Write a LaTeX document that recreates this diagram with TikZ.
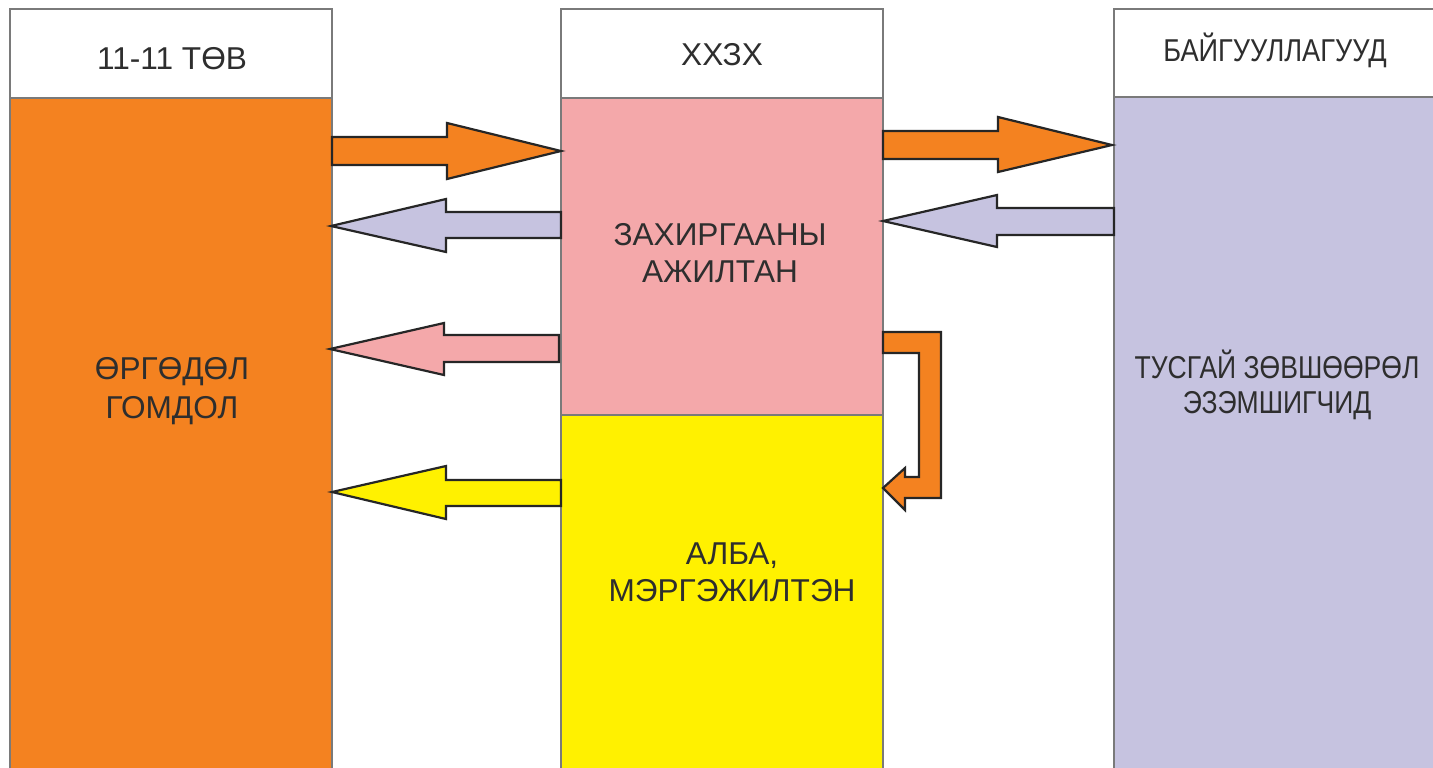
\documentclass[tikz,border=0pt]{standalone}
\usepackage{fontspec}
\usepackage{graphicx}
\setmainfont{Liberation Sans}
\definecolor{cOrange}{HTML}{F48220}
\definecolor{cPink}{HTML}{F4A8AA}
\definecolor{cYellow}{HTML}{FFF100}
\definecolor{cLav}{HTML}{C6C3E0}
\definecolor{cText}{HTML}{2E2E2E}
\definecolor{cBorder}{HTML}{7A7A7A}
\definecolor{cOut}{HTML}{262626}
\tikzset{
  panel/.style={draw=cBorder, line width=0.6pt},
  barrow/.style={draw=cOut, line width=1.1pt, line join=miter},
  lbl/.style={text=cText, font=\fontsize{15.8}{18.5}\selectfont, align=center, inner sep=0pt},
}
\begin{document}
\begin{tikzpicture}[x=0.5pt,y=-0.5pt]
\clip (0,0) rectangle (1433,767);
\fill[white] (0,0) rectangle (1433,767);
% columns
\draw[panel, fill=white] (10,9) rectangle (332,98);
\draw[panel, fill=cOrange] (10,98) rectangle (332,780);
\draw[panel, fill=white] (561,9) rectangle (883,98);
\draw[panel, fill=cPink] (561,98) rectangle (883,415);
\draw[panel, fill=cYellow] (561,415) rectangle (883,780);
\draw[panel, fill=white] (1114,9) rectangle (1445,97);
\draw[panel, fill=cLav] (1114,97) rectangle (1445,780);
% labels
\node[lbl] (h1) at (172,59) {11-11 ТӨВ};
\node[lbl] (h2) at (722,55) {ХХЗХ};
\node[lbl] (h3) at (1275,50) {\scalebox{0.86}[1]{БАЙГУУЛЛАГУУД}};
\node[lbl, font=\fontsize{15.8}{19.5}\selectfont] (b1) at (172,391) {ӨРГӨДӨЛ\\ГОМДОЛ};
\node[lbl] (b2) at (720,253) {ЗАХИРГААНЫ\\АЖИЛТАН};
\node[lbl] (b3) at (732,572) {АЛБА,\\МЭРГЭЖИЛТЭН};
\node[lbl, font=\fontsize{15.8}{17.5}\selectfont] (b4) at (1277,385) {\scalebox{0.84}[1]{ТУСГАЙ ЗӨВШӨӨРӨЛ}\\\scalebox{0.84}[1]{ЭЗЭМШИГЧИД}};
% block arrows
\draw[barrow, fill=cOrange] (332,137) -- (447,137) -- (447,123) -- (561,151) -- (447,179) -- (447,165) -- (332,165) -- cycle;
\draw[barrow, fill=cLav] (561,212) -- (446,212) -- (446,199) -- (331,226) -- (446,252) -- (446,238) -- (561,238) -- cycle;
\draw[barrow, fill=cPink] (559,335) -- (444,335) -- (444,323) -- (330,349) -- (444,375) -- (444,362) -- (559,362) -- cycle;
\draw[barrow, fill=cYellow] (561,480) -- (446,480) -- (446,466) -- (332,492) -- (446,519) -- (446,506) -- (561,506) -- cycle;
\draw[barrow, fill=cOrange] (883,131) -- (998,131) -- (998,117) -- (1112,145) -- (998,172) -- (998,159) -- (883,159) -- cycle;
\draw[barrow, fill=cLav] (1114,208) -- (997,208) -- (997,195) -- (883,221) -- (997,247) -- (997,235) -- (1114,235) -- cycle;
\draw[barrow, fill=cOrange] (883,332) -- (941,332) -- (941,498) -- (905,498) -- (905,510) -- (883,488) -- (905,468) -- (905,477) -- (919,477) -- (919,353) -- (883,353) -- cycle;
\end{tikzpicture}
\end{document}
